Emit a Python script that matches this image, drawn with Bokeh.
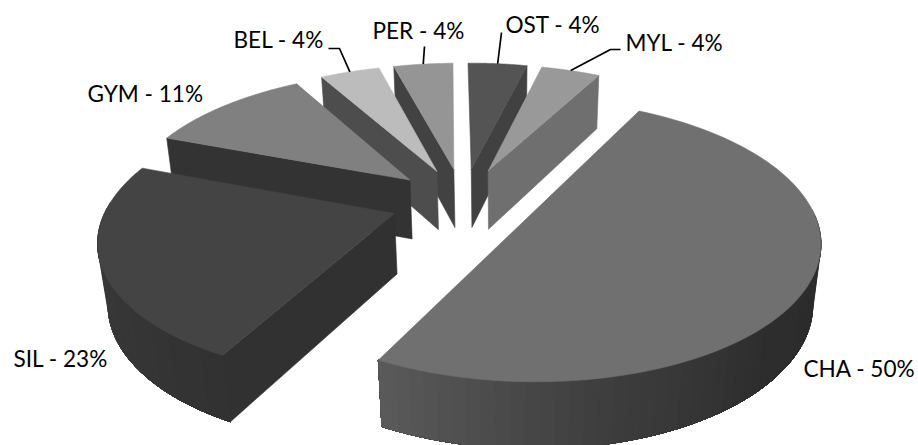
import numpy as np
from bokeh.core.properties import value
from bokeh.embed import file_html
from bokeh.plotting import figure
from bokeh.resources import INLINE

# Share of each group, clockwise from twelve o'clock
groups = ["OST", "MYL", "CHA", "SIL", "GYM", "BEL", "PER"]
shares = [4, 4, 50, 23, 11, 4, 4]

top_shades = ["#545454", "#999999", "#707070", "#444444", "#808080", "#bcbcbc", "#959595"]
cut_shades = ["#414141", "#6f6f6f", "#2c2c2c", "#313131", "#333333", "#4d4d4d", "#424242"]
# Grey levels along the rim of the two slices whose rim faces the viewer: angle -> level
rim_angles = {2: [90, 135, 170, 208.8], 3: [208.8, 275]}
rim_levels = {2: [43, 45, 62, 90], 3: [50, 59]}

# Slices are painted back to front so nearer ones overlap the others
paint_order = [6, 0, 5, 1, 4, 3, 2]

label_left = [505, 625, 803, 13, 87, 233, 372]
label_mid_y = [24, 42, 368, 358, 93, 39, 30]
# Elbow points of the leader lines, for the slices that have one
leader_start = {0: [(501, 32)], 1: [(620, 49), (610, 49)], 5: [(328, 48), (339, 48)], 6: [(424, 46)]}

# Camera of the tilted pie: plane (x, y) plus depth z mapped to the page
CAM = (287.38, 71.735, 12.5, 462.67, -1.095, -100.24, 66.3, 200.84, 0.16067, 0.0072699, 0.025)
EXPLODE = 0.25402


def project(theta, radius, mid, depth):
    c = CAM
    x = radius * np.sin(np.radians(theta)) + EXPLODE * np.sin(np.radians(mid))
    y = radius * np.cos(np.radians(theta)) + EXPLODE * np.cos(np.radians(mid))
    w = 1 + c[8] * y + c[9] * x + c[10] * depth
    return (c[0] * x + c[1] * y + c[2] * depth + c[3]) / w, (c[4] * x + c[5] * y + c[6] * depth + c[7]) / w


p = figure(width=918, height=445, x_range=(0, 918), y_range=(445, 0),
           output_backend="svg", toolbar_location=None, min_border=0)
p.axis.visible = False
p.grid.visible = False
p.outline_line_color = None
p.background_fill_color = "white"

edges = np.cumsum([0] + shares) * 3.6


def face(xs, ys, colour):
    p.patch(list(xs), list(ys), fill_color=colour, line_color=colour, line_width=0.6)


for i in paint_order:
    start, end = edges[i], edges[i + 1]
    mid = (start + end) / 2

    # Cut faces along the two straight edges, where they turn towards the viewer
    for theta, visible in ((start, np.sin(np.radians(start)) < -1e-6), (end, np.sin(np.radians(end)) > 1e-6)):
        if visible:
            ax, ay = project(mid, 0, mid, 0)
            bx, by = project(mid, 0, mid, 1)
            cx, cy = project(theta, 1, mid, 1)
            dx, dy = project(theta, 1, mid, 0)
            face([ax, bx, cx, dx], [ay, by, cy, dy], cut_shades[i])

    # Curved rim in overlapping strips, each running on to the far end of the
    # slice, so that the shade can change along it without seams
    if i in rim_angles:
        low = max(start, 88)
        high = min(end, 276)
        order = np.arange(high, low, -2.5) if i == 3 else np.arange(low, high, 2.5)
        for t0 in order:
            t_far = low if i == 3 else high
            mid_t = t0 - 1.25 if i == 3 else t0 + 1.25
            g = int(round(np.interp(mid_t, rim_angles[i], rim_levels[i])))
            colour = f"#{g:02x}{g:02x}{g:02x}"
            arc = np.linspace(t0, t_far, 80)
            x0, y0 = project(arc, 1, mid, 0)
            x1, y1 = project(arc[::-1], 1, mid, 1)
            face(np.r_[x0, x1], np.r_[y0, y1], colour)

    # Top of the slice
    arc = np.linspace(start, end, 90)
    ax, ay = project(arc, 1, mid, 0)
    tx, ty = project(mid, 0, mid, 0)
    face(np.r_[tx, ax], np.r_[ty, ay], top_shades[i])

# Leader lines run from the label to the middle of the slice's outer edge
for i, knees in leader_start.items():
    mid = (edges[i] + edges[i + 1]) / 2
    ex, ey = project(mid, 1, mid, 0)
    p.line([k[0] for k in knees] + [float(ex)], [k[1] for k in knees] + [float(ey)],
           line_color="black", line_width=1.7)

p.text(label_left, label_mid_y, [f"{g} - {s}%" for g, s in zip(groups, shares)],
       text_font=value("Lato"), text_font_size="22.6px", text_color="black",
       text_baseline="middle", text_align="left")

open("out.html", "w").write(file_html(p, INLINE))
